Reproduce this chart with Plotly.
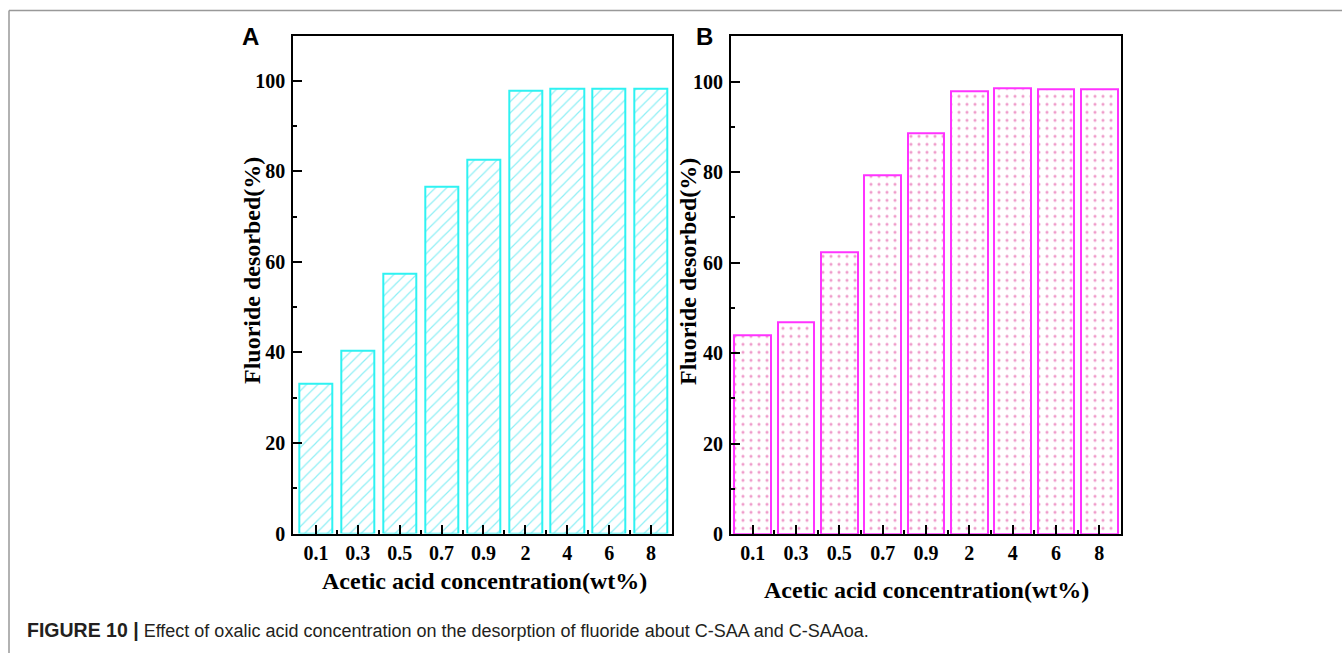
import plotly.graph_objects as go

W, H = 1342, 664
H_EFF = 653  # effective vertical scale observed in the rendered page

categories = ["0.1", "0.3", "0.5", "0.7", "0.9", "2", "4", "6", "8"]
values_a = [33.0, 40.4, 57.4, 76.7, 82.5, 97.9, 98.4, 98.2, 98.4]
values_b = [44.0, 46.8, 62.2, 79.4, 88.5, 97.8, 98.6, 98.4, 98.4]
y_tick_vals = [0, 20, 40, 60, 80, 100]
y_minor_vals = [10, 30, 50, 70, 90]

x_title = "Acetic acid concentration(wt%)"
y_title = "Fluoride desorbed(%)"
caption_bold = "FIGURE 10 |"
caption_text = " Effect of oxalic acid concentration on the desorption of fluoride about C-SAA and C-SAAoa."

def px_x(p):
    return p / W

def px_y(p):
    return 1 - p / H_EFF

idx = list(range(len(categories)))

fig = go.Figure()
fig.add_trace(go.Bar(
    x=idx, y=values_a, width=0.79, xaxis="x", yaxis="y",
    marker=dict(color="white",
                line=dict(color="#2EF2F2", width=2),
                pattern=dict(shape="/", fgcolor="#20E0EC", bgcolor="white",
                             size=8, solidity=0.15)),
    showlegend=False,
))
fig.add_trace(go.Bar(
    x=idx, y=values_b, width=0.84, xaxis="x2", yaxis="y2",
    marker=dict(color="white",
                line=dict(color="#FF33FF", width=2),
                pattern=dict(shape=".", fgcolor="#E03C98", bgcolor="white",
                             size=8, solidity=0.12)),
    showlegend=False,
))

tickfont = dict(family="Liberation Serif", size=20, color="black", weight="bold")

def xaxis_cfg(domain, rng, anchor):
    return dict(
        domain=domain, anchor=anchor, range=rng,
        tickmode="array", tickvals=idx, ticktext=categories,
        ticks="inside", ticklen=9, tickwidth=2, tickcolor="black",
        minor=dict(tickmode="array", tickvals=[i + 0.5 for i in idx[:-1]],
                   ticks="inside", ticklen=4, tickwidth=2, tickcolor="black"),
        showline=True, linecolor="black", linewidth=2, mirror=True,
        showgrid=False, zeroline=False, tickfont=tickfont,
        ticklabelstandoff=0,
    )

def yaxis_cfg(domain, anchor):
    return dict(
        domain=domain, anchor=anchor, range=[0, 110],
        tickmode="array", tickvals=y_tick_vals,
        ticks="inside", ticklen=9, tickwidth=2, tickcolor="black",
        minor=dict(tickmode="array", tickvals=y_minor_vals,
                   ticks="inside", ticklen=4, tickwidth=2, tickcolor="black"),
        showline=True, linecolor="black", linewidth=2, mirror=True,
        showgrid=False, zeroline=False, tickfont=tickfont,
        ticklabelstandoff=2,
    )

fig.update_layout(
    width=W, height=H,
    margin=dict(l=0, r=0, t=0, b=0),
    paper_bgcolor="white", plot_bgcolor="white",
    bargap=0,
    xaxis=xaxis_cfg([px_x(293.3), px_x(672)], [-0.54, 8.5], "y"),
    yaxis=yaxis_cfg([px_y(533.5), px_y(35.7)], "x"),
    xaxis2=xaxis_cfg([px_x(731), px_x(1121)], [-0.5, 8.5], "y2"),
    yaxis2=yaxis_cfg([px_y(534.3), px_y(36.3)], "x2"),
)

title_font = dict(family="Liberation Serif", size=24, color="black", weight="bold")
ann = []
ann.append(dict(x=px_x(484), y=px_y(581), text=x_title, font=title_font))
ann.append(dict(x=px_x(926), y=px_y(590), text=x_title, font=title_font))
ann.append(dict(x=px_x(252), y=px_y(271), text=y_title, font=title_font, textangle=-90))
ann.append(dict(x=px_x(688), y=px_y(272), text=y_title, font=title_font, textangle=-90))
label_font = dict(family="Liberation Sans", size=24, color="black", weight="bold")
ann.append(dict(x=px_x(251), y=px_y(36), text="A", font=label_font))
ann.append(dict(x=px_x(705), y=px_y(36), text="B", font=label_font))
ann.append(dict(x=px_x(25), y=px_y(630), xanchor="left",
                text="<b><span style='font-size:19.5px'>" + caption_bold + "</span></b>" + caption_text,
                font=dict(family="Liberation Sans", size=18, color="#231F20")))
for a in ann:
    a.setdefault("xanchor", "center")
    a.update(xref="paper", yref="paper", yanchor="middle", showarrow=False)
fig.update_layout(annotations=ann)

fig.add_shape(type="line", xref="paper", yref="paper",
              x0=px_x(9), x1=1, y0=px_y(10.5), y1=px_y(10.5),
              line=dict(color="#999999", width=1.5))
fig.add_shape(type="line", xref="paper", yref="paper",
              x0=px_x(9), x1=px_x(9), y0=px_y(10.5), y1=0,
              line=dict(color="#999999", width=1.5))

fig.write_html("out.html")
